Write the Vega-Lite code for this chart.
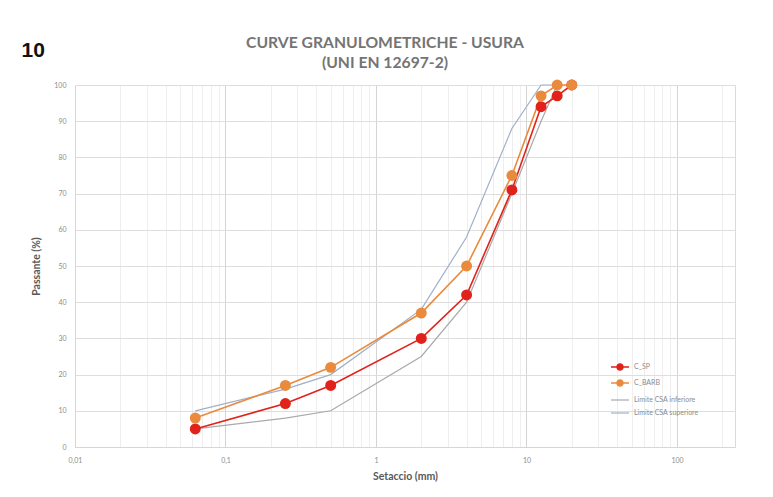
{
  "$schema": "https://vega.github.io/schema/vega-lite/v6.json",
  "width": 660,
  "height": 362,
  "autosize": {"type": "none"},
  "padding": {"left": 75, "top": 85, "right": 38, "bottom": 50},
  "background": "white",
  "config": {
    "view": {"stroke": "#dadada", "strokeWidth": 1},
    "font": "Lato"
  },
  "title": {
    "text": ["CURVE GRANULOMETRICHE - USURA", "(UNI EN 12697-2)"],
    "anchor": "middle",
    "frame": "group",
    "dx": -20,
    "dy": 37,
    "font": "Lato",
    "fontSize": 15.7,
    "fontWeight": "bold",
    "color": "#747474",
    "lineHeight": 20
  },
  "datasets": {
    "limiti": [
      {"serie": "Limite CSA inferiore", "d": 0.063, "p": 5},
      {"serie": "Limite CSA inferiore", "d": 0.25, "p": 8},
      {"serie": "Limite CSA inferiore", "d": 0.5, "p": 10},
      {"serie": "Limite CSA inferiore", "d": 2, "p": 25},
      {"serie": "Limite CSA inferiore", "d": 4, "p": 40},
      {"serie": "Limite CSA inferiore", "d": 8, "p": 70},
      {"serie": "Limite CSA inferiore", "d": 12.5, "p": 90},
      {"serie": "Limite CSA inferiore", "d": 16, "p": 100},
      {"serie": "Limite CSA superiore", "d": 0.063, "p": 10},
      {"serie": "Limite CSA superiore", "d": 0.25, "p": 16},
      {"serie": "Limite CSA superiore", "d": 0.5, "p": 20},
      {"serie": "Limite CSA superiore", "d": 2, "p": 38},
      {"serie": "Limite CSA superiore", "d": 4, "p": 58},
      {"serie": "Limite CSA superiore", "d": 8, "p": 88},
      {"serie": "Limite CSA superiore", "d": 12.5, "p": 100},
      {"serie": "Limite CSA superiore", "d": 16, "p": 100}
    ],
    "curve": [
      {"serie": "C_SP", "d": 0.063, "p": 5},
      {"serie": "C_SP", "d": 0.25, "p": 12},
      {"serie": "C_SP", "d": 0.5, "p": 17},
      {"serie": "C_SP", "d": 2, "p": 30},
      {"serie": "C_SP", "d": 4, "p": 42},
      {"serie": "C_SP", "d": 8, "p": 71},
      {"serie": "C_SP", "d": 12.5, "p": 94},
      {"serie": "C_SP", "d": 16, "p": 97},
      {"serie": "C_SP", "d": 20, "p": 100},
      {"serie": "C_BARB", "d": 0.063, "p": 8},
      {"serie": "C_BARB", "d": 0.25, "p": 17},
      {"serie": "C_BARB", "d": 0.5, "p": 22},
      {"serie": "C_BARB", "d": 2, "p": 37},
      {"serie": "C_BARB", "d": 4, "p": 50},
      {"serie": "C_BARB", "d": 8, "p": 75},
      {"serie": "C_BARB", "d": 12.5, "p": 97},
      {"serie": "C_BARB", "d": 16, "p": 100},
      {"serie": "C_BARB", "d": 20, "p": 100}
    ]
  },
  "encoding": {
    "y": {
      "field": "p",
      "type": "quantitative",
      "title": "Passante  (%)",
      "scale": {"domain": [0, 100], "nice": false},
      "axis": {
        "values": [0, 10, 20, 30, 40, 50, 60, 70, 80, 90, 100],
        "labelFontSize": 7,
        "labelColor": "#8c8c8c",
        "labelPadding": 9,
        "labelOverlap": false,
        "ticks": false,
        "domainColor": "#d6d6d6",
        "gridColor": "#dedede",
        "titleFont": "Lato",
        "titleFontSize": 10.5,
        "titleFontWeight": "bold",
        "titleColor": "#595959",
        "titlePadding": 12
      }
    }
  },
  "layer": [
    {
      "data": {"name": "limiti"},
      "mark": {"type": "line", "strokeWidth": 1.2},
      "encoding": {
        "x": {
          "field": "d",
          "type": "quantitative",
          "scale": {"type": "log", "domain": [0.01, 243], "nice": false},
          "axis": {
            "orient": "top",
            "labels": false,
            "ticks": false,
            "domain": false,
            "grid": false,
            "title": "10",
            "titleFont": "Liberation Sans",
            "titleFontSize": 21,
            "titleFontWeight": "bold",
            "titleColor": "#111111",
            "titleAngle": 0,
            "titleAlign": "left",
            "titleBaseline": "alphabetic",
            "titleX": -54,
            "titleY": -29
          }
        },
        "color": {
          "field": "serie",
          "type": "nominal",
          "scale": {
            "domain": ["Limite CSA inferiore", "Limite CSA superiore"],
            "range": ["#a9a9a9", "#9fb0c8"]
          },
          "legend": {
            "orient": "none",
            "legendX": 535,
            "legendY": 305,
            "title": null,
            "symbolType": "stroke",
            "symbolSize": 324,
            "symbolStrokeWidth": 1.2,
            "labelFontSize": 7,
            "labelColor": "#8c8c8c",
            "labelOffset": 4,
            "rowPadding": -1
          }
        }
      }
    },
    {
      "data": {"name": "curve"},
      "mark": {
        "type": "line",
        "strokeWidth": 1.6,
        "point": {"filled": true, "size": 120, "opacity": 1}
      },
      "encoding": {
        "x": {
          "field": "d",
          "type": "quantitative",
          "title": "Setaccio (mm)",
          "scale": {"type": "log", "domain": [0.01, 243], "nice": false},
          "axis": {
            "orient": "bottom",
            "values": [0.01, 0.02, 0.03, 0.04, 0.05, 0.06, 0.07, 0.08, 0.09, 0.1, 0.2, 0.3, 0.4, 0.5, 0.6, 0.7, 0.8, 0.9, 1, 2, 3, 4, 5, 6, 7, 8, 9, 10, 20, 30, 40, 50, 60, 70, 80, 90, 100, 200],
            "format": "~g",
            "labelExpr": "abs(log(datum.value)/LN10 - round(log(datum.value)/LN10)) < 0.001 ? replace(datum.label, '.', ',') : ''",
            "labelFontSize": 7,
            "labelColor": "#8c8c8c",
            "labelPadding": 9,
            "labelFlush": false,
            "labelOverlap": false,
            "ticks": false,
            "domainColor": "#d6d6d6",
            "grid": true,
            "gridColor": {
              "condition": {
                "test": "abs(log(datum.value)/LN10 - round(log(datum.value)/LN10)) < 0.001",
                "value": "#d4d4d4"
              },
              "value": "#eeeeee"
            },
            "titleFont": "Lato",
            "titleFontSize": 10.5,
            "titleFontWeight": "bold",
            "titleColor": "#595959",
            "titlePadding": 8
          }
        },
        "color": {
          "field": "serie",
          "type": "nominal",
          "scale": {"domain": ["C_SP", "C_BARB"], "range": ["#e1221b", "#ea8a3c"]},
          "legend": {
            "orient": "none",
            "legendX": 535,
            "legendY": 272,
            "title": null,
            "symbolType": "M-1,0H1M0.33,0A0.33,0.33,0,1,1,-0.33,0A0.33,0.33,0,1,1,0.33,0Z",
            "symbolSize": 324,
            "symbolStrokeWidth": 1.5,
            "labelFontSize": 7,
            "labelColor": "#8c8c8c",
            "labelOffset": 4,
            "rowPadding": -1
          }
        }
      }
    }
  ],
  "resolve": {"scale": {"color": "independent"}, "axis": {"x": "independent"}}
}
